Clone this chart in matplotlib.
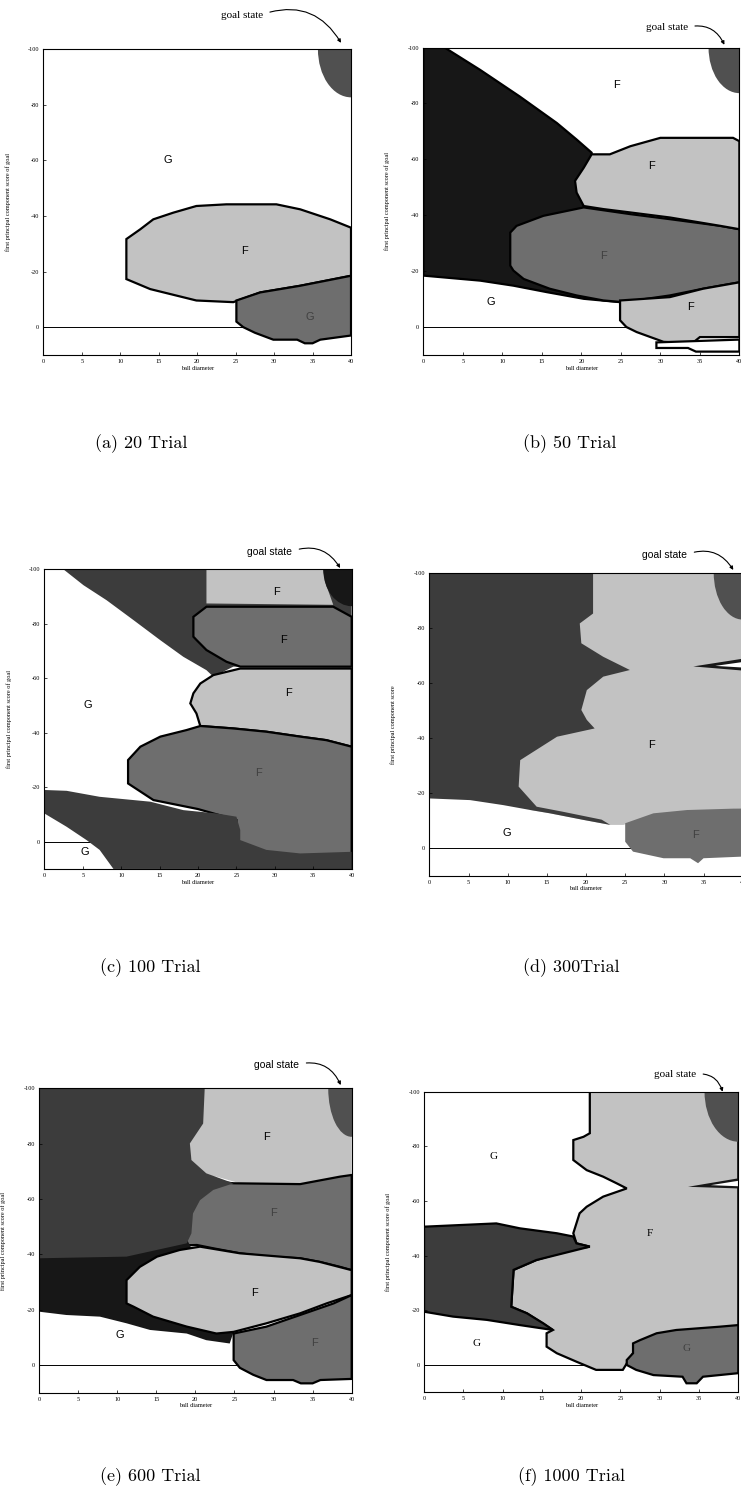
import numpy as np
import matplotlib.pyplot as plt
from matplotlib.patches import Polygon, Ellipse

plt.rcParams['axes.unicode_minus'] = False

# grey levels of the scanned halftones
WHITE = '#ffffff'
LIGHT = '#c2c2c2'
MID = '#6e6e6e'
DARK = '#3c3c3c'
DARKEST = '#171717'
GOAL = '#505050'

x_ticks = [0, 5, 10, 15, 20, 25, 30, 35, 40]
y_ticks = [-100, -80, -60, -40, -20, 0]
captions = ['(a) 20 Trial', '(b) 50 Trial', '(c) 100 Trial',
            '(d) 300Trial', '(e) 600 Trial', '(f) 1000 Trial']

# ---- (a) 20 trials
a_goal = (4.3, 17.3)
a_light_f = np.array([(10.8, -31.7), (12.6, -35.2), (14.3, -38.8), (16.9, -41.2), (19.9, -43.6),
                      (23.8, -44.2), (30.3, -44.2), (33.4, -42.4), (37.3, -38.8), (40, -35.8),
                      (40, -18.5), (33.4, -14.9), (28.2, -12.5), (24.7, -9), (19.9, -9.6),
                      (13.9, -13.7), (10.8, -17.3)])
a_dark_g = np.array([(25.1, -9.6), (28.2, -12.5), (33.4, -14.9), (40, -18.5), (40, 3), (36, 4.5),
                     (35, 5.8), (34, 5.8), (33, 4.5), (29.9, 4.5), (27.5, 2), (26, 0), (25.1, -2)])
a_labels = [('G', 16.2, -60.3), ('F', 26.2, -27.5), ('G', 34.7, -3.6)]

# ---- (b) 50 trials
b_goal = (3.9, 16.3)
b_dark = np.array([(0, -100), (2.7, -100), (7.2, -92), (12.2, -82.5), (16.9, -73), (19.4, -67.1),
                   (21.3, -62.4), (21.3, -60), (20.3, -56.4), (19.4, -52.9), (19.8, -48.1),
                   (20.3, -43.3), (24.9, -8.9), (20.3, -10.1), (15.6, -12.5), (11.4, -14.8),
                   (7.2, -16.6), (0, -18.4)])
b_mid_f = np.array([(11, -33.8), (11.8, -36.2), (15.2, -39.8), (20.3, -42.8), (26.2, -40.4),
                    (31.2, -38.6), (37.6, -36.2), (40, -35), (40, -16), (35.4, -13.7),
                    (31.2, -11.3), (25.3, -8.9), (22.8, -9.5), (19.4, -11.3), (16, -13.7),
                    (12.7, -17.2), (11.4, -20.2), (11, -22)])
b_light_f = np.array([(21.3, -61.8), (23.6, -61.8), (26.2, -64.7), (30, -67.7), (39.2, -67.7),
                      (40, -66.5), (40, -35), (37.6, -36.2), (31.2, -39.2), (26.2, -41),
                      (22.8, -42.2), (20.3, -43.3), (19.4, -48.1), (19.2, -52.3), (20.3, -57)])
b_light_f2 = np.array([(24.9, -9.5), (31.2, -10.7), (35.4, -13.7), (40, -16), (40, 3.6), (35, 3.6),
                       (34, 5.9), (30.4, 5.3), (27, 1.8), (25.7, 0), (24.9, -2.4)])
b_strip = np.array([(29.5, 5.5), (40, 4.5), (40, 8.8), (34.5, 8.8), (33.5, 7.5), (29.5, 7.5)])
b_labels = [('F', 24.5, -86.7), ('F', 28.9, -57.6), ('F', 22.8, -25.5), ('G', 8.6, -8.9),
            ('F', 33.8, -7.1)]

# ---- (c) 100 trials
c_goal = (3.7, 13.5)
c_dark_top = np.array([(2.5, -100), (40, -100), (40, -64), (24.6, -64.3), (22, -60.6), (21.1, -63),
                       (18.1, -67.9), (15.1, -74), (11.6, -81.4), (8.1, -88.7), (5.1, -94.2)])
c_light_top = np.array([(21.1, -100), (36.3, -100), (36.6, -95), (37.6, -87), (21.1, -87.5)])
c_mid_top = np.array([(19.4, -82.6), (21.1, -86.3), (37.6, -86.3), (40, -82.6), (40, -64.3),
                      (25.5, -64.3), (23.7, -66.1), (21.1, -70.4), (19.8, -74.1), (19.4, -75.3)])
c_light_mid = np.array([(22, -61.2), (25.5, -63.6), (40, -63.6), (40, -34.9), (36.7, -37.3),
                        (33.3, -38.6), (28.9, -40.4), (24.6, -41.6), (20.3, -42.5), (19.8, -47.1),
                        (19, -50.8), (19.4, -54.5), (20.3, -58.1)])
c_mid_low = np.array([(10.9, -30), (12.5, -34.9), (15.1, -38.6), (18.5, -41), (20.3, -42.5),
                      (24.6, -41.6), (28.9, -40.4), (33.3, -38.6), (36.7, -37.3), (40, -34.9),
                      (40, 10), (25, 10), (25, -8), (20, -12), (14.2, -15.3), (10.9, -21.4)])
c_dark_low = np.array([(0, -19), (2.9, -18.7), (7.2, -16.5), (11.6, -15.3), (13.8, -14.7),
                       (18.1, -11.6), (22.4, -10.4), (25, -9.2), (25.5, -4.3), (25.5, -0.6),
                       (28.9, 3), (33.3, 4.3), (40, 3.7), (40, 10), (9, 10), (7.2, 3),
                       (5.5, -0.6), (2.9, -5.5), (0, -10.4)])
c_labels = [('G', 5.7, -50.2), ('G', 5.3, 3.7), ('F', 30.2, -91.8), ('F', 31.1, -74.1),
            ('F', 31.8, -54.5), ('F', 27.9, -25.1)]

# ---- (d) 300 trials
d_goal = (3.7, 17.0)
d_light = np.array([(15, -100), (40, -100), (40, -14.5), (30.7, -12.7), (26.5, -10.3), (24.8, -8.5),
                    (23.1, -8.5), (19.7, -10.3), (15.4, -12.7), (12.9, -13.9), (11, -20),
                    (11, -40), (15, -60)])
d_dark = np.array([(0, -100), (20.9, -100), (20.9, -85.2), (19.2, -81.6), (19.4, -74.4),
                   (22.2, -69.5), (25.6, -64.7), (22.2, -62.3), (20.1, -57.4), (19.4, -50.2),
                   (20.1, -46.6), (21.1, -43.5), (16.3, -40.5), (11.6, -32), (11.4, -22.4),
                   (13.7, -15.1), (17, -13.3), (22, -10.4), (23.1, -8.5), (19.7, -10.3),
                   (15.4, -12.7), (12.9, -13.9), (9.4, -15.7), (5.2, -17.5), (0, -18.1)])
d_wedge = np.array([(33.7, -66), (40, -68.8), (40, -64.5)])
d_wedge_hole = np.array([(36.5, -66.2), (40, -67.6), (40, -65.6)])
d_mid_g = np.array([(25, -9.1), (28.6, -12.7), (32.9, -13.9), (40, -14.5), (40, 3), (35, 3.6),
                    (34.3, 5.4), (33.3, 3.6), (29.9, 3.6), (26, 1.2), (25, -2.4)])
d_labels = [('G', 9.9, -5.4), ('F', 28.4, -37.5), ('F', 34, -5)]

# ---- (e) 600 trials
e_goal = (3.0, 17.5)
e_light_top = np.array([(15, -100), (37.2, -100), (40, -82.5), (40, -68), (38.5, -68),
                        (35.5, -66.3), (33.4, -65.7), (25.7, -65.7), (22.7, -68.1), (15, -68)])
e_mid_f = np.array([(22, -66.5), (24.9, -65.7), (33.4, -65.4), (38.5, -68.1), (40, -68.7),
                    (40, -34.3), (38.5, -35.5), (35.9, -37.3), (33.4, -38.6), (29.1, -39.2),
                    (25.7, -40.4), (22.3, -42.2), (20.2, -43.4), (15, -43), (15, -62)])
e_darkest = np.array([(0, -45), (19, -45), (24.9, -12), (24.4, -7.8), (21.4, -9),
                      (18.9, -11.4), (14.2, -12.7), (11.2, -15.1), (7.8, -17.5), (3.5, -18.1),
                      (0, -19.3)])
e_dark = np.array([(0, -100), (21.2, -100), (21, -87.3), (19.3, -80.1), (19.5, -74.1), (21.4, -69.3),
                   (24.9, -65.7), (22.3, -63.3), (20.6, -59.6), (19.7, -54.8), (19.5, -47.6),
                   (18.9, -44), (11.2, -39.2), (0, -38.6)])
e_light_low = np.array([(11.2, -30.7), (12.9, -35.5), (15.1, -39.2), (18, -41.6), (20.6, -42.8),
                        (25.7, -40.4), (33.4, -38.6), (35.9, -37.3), (40, -34.3), (40, -25.3),
                        (36.8, -22.3), (33.4, -18.7), (29.1, -15.1), (24.9, -12), (22.7, -11.4),
                        (18.9, -13.9), (14.6, -17.5), (12.1, -21.1), (11.2, -22.3)])
e_mid_g = np.array([(24.9, -11.4), (29.1, -13.9), (33.4, -18.1), (37.7, -22.3), (40, -25.3),
                    (40, 5), (36, 5.4), (35, 6.6), (33.5, 6.6), (32.5, 5.4), (29.1, 5.4),
                    (27.4, 3.5), (25.7, 1), (24.9, -1.8)])
e_labels = [('F', 29.1, -82.5), ('F', 30, -54.8), ('F', 27.6, -25.9), ('F', 35.3, -7.8),
            ('G', 10.4, -10.8)]

# ---- (f) 1000 trials
f_goal = (4.3, 18.3)
f_light = np.array([(21.1, -100), (40, -100), (40, -12.8), (33, -12), (28, -9), (26.6, -4.3),
                    (25.3, 1.8), (21.9, 1.8), (19.4, -1.2), (16.9, -4.3), (15.6, -6.7),
                    (15.6, -11.6), (16.4, -12.8), (13.1, -18.9), (11.1, -21.3), (11.4, -34.8),
                    (14.3, -38.4), (18.6, -42.1), (21.1, -43.3), (19.4, -44.5), (19, -48.2),
                    (19.8, -55.5), (20.7, -57.9), (22.8, -61.6), (25.8, -64.6), (24.5, -66.5),
                    (22.8, -68.9), (20.7, -71.3), (19, -75), (19, -82.3), (20.3, -83.5),
                    (21.1, -84.8), (21.1, -94.5)])
f_dark = np.array([(0, -50.6), (9.2, -51.8), (12.2, -50), (16.9, -48.2), (19, -47), (19.4, -44.5),
                   (21.1, -43.3), (18.6, -41.5), (14.3, -38.4), (11.4, -34.8), (11.1, -21.3),
                   (13.1, -18.9), (15.2, -15.2), (16.4, -12.8), (12.2, -14.6), (8, -16.5),
                   (3.7, -17.7), (0, -19.5)])
f_wedge = np.array([(33.6, -65.2), (40, -68.3), (40, -64.6)])
f_wedge_hole = np.array([(36.5, -65.8), (40, -67.4), (40, -65.4)])
f_mid_g = np.array([(26.6, -7.9), (27.5, -9.1), (29.6, -11.6), (32.1, -12.8), (37.6, -14),
                    (40, -14.6), (40, 3), (35.5, 4.3), (34.7, 6.7), (33.4, 6.7), (32.9, 4.3),
                    (29.2, 3.7), (27, 1.8), (25.8, 0), (25.8, -1.8), (26.6, -4.3)])
f_labels = [('G', 8.8, -76.2), ('F', 28.7, -48.2), ('G', 6.7, -7.9), ('G', 33.4, -6.1)]

# axes rectangles in figure fractions
rects = [[0.0584, 0.7643, 0.4153, 0.2030], [0.5713, 0.7643, 0.4265, 0.2041],
         [0.0598, 0.4230, 0.4148, 0.1989], [0.5794, 0.4184, 0.4229, 0.2013],
         [0.0526, 0.0752, 0.4220, 0.2021], [0.5722, 0.0755, 0.4242, 0.1996]]
cap_pos = [(141, 444), (570, 444), (150, 968), (571, 968), (150, 1477), (572, 1477)]

panels = [
    dict(layers=[(a_light_f, LIGHT, True), (a_dark_g, MID, True)],
         goal=a_goal, goal_first=True, labels=a_labels, dark_labels=[2],
         txt=(0.646, 1.112), tip=(38.7, -102.3), serif=True, lab_serif=False,
         ylab='first principal component score of goal'),
    dict(layers=[(b_dark, DARKEST, True), (b_mid_f, MID, True), (b_light_f, LIGHT, True),
                 (b_light_f2, LIGHT, True), (b_strip, WHITE, True)],
         goal=b_goal, goal_first=True, labels=b_labels, dark_labels=[2],
         txt=(0.771, 1.064), tip=(38.1, -101), serif=True, lab_serif=False,
         ylab='first principal component score of goal'),
    dict(layers=[(c_dark_top, DARK, False), (c_light_top, LIGHT, False), (c_mid_top, MID, True),
                 (c_light_mid, LIGHT, True), (c_mid_low, MID, True), (c_dark_low, DARK, False)],
         goal=c_goal, goal_color=DARKEST, labels=c_labels, dark_labels=[5],
         txt=(0.734, 1.058), tip=(38.5, -100.5), serif=False, lab_serif=False,
         ylab='first principal component score of goal'),
    dict(layers=[(d_light, LIGHT, False), (d_dark, DARK, False), (d_wedge, DARKEST, False),
                 (d_wedge_hole, WHITE, False), (d_mid_g, MID, False)],
         goal=d_goal, labels=d_labels, dark_labels=[2],
         txt=(0.752, 1.058), tip=(38.8, -101), serif=False, lab_serif=False,
         ylab='first principal component score'),
    dict(layers=[(e_light_top, LIGHT, False), (e_mid_f, MID, True), (e_darkest, DARKEST, False),
                 (e_dark, DARK, False), (e_light_low, LIGHT, True), (e_mid_g, MID, True)],
         goal=e_goal, labels=e_labels, dark_labels=[1, 3],
         txt=(0.761, 1.077), tip=(38.6, -101.2), serif=False, lab_serif=False,
         ylab='first principal component score of goal'),
    dict(layers=[(f_light, LIGHT, True), (f_dark, DARK, True), (f_wedge, DARKEST, False),
                 (f_wedge_hole, WHITE, False), (f_mid_g, MID, True)],
         goal=f_goal, labels=f_labels, dark_labels=[3],
         txt=(0.799, 1.056), tip=(38.0, -100), serif=True, lab_serif=True,
         ylab='first principal component score of goal'),
]

fig = plt.figure(figsize=(7.41, 15.06), dpi=100)

for rect, p, cap, (cx, cy) in zip(rects, panels, captions, cap_pos):
    ax = fig.add_axes(rect)
    ax.set_xlim(0, 40)
    ax.set_ylim(10, -100)
    ax.axhline(0, color='black', lw=0.7, zorder=0.5)

    goal_patch = Ellipse((40, -100), 2 * p['goal'][0], 2 * p['goal'][1],
                         facecolor=p.get('goal_color', GOAL), edgecolor='none')
    if p.get('goal_first'):
        ax.add_patch(goal_patch)
    for verts, shade, outline in p['layers']:
        ax.add_patch(Polygon(verts, closed=True, facecolor=shade,
                             edgecolor='black' if outline else 'none', lw=1.6))
    if not p.get('goal_first'):
        ax.add_patch(goal_patch)

    lab_font = 'Liberation Serif' if p['lab_serif'] else 'Liberation Sans'
    for i, (s, lx, ly) in enumerate(p['labels']):
        faint = i in p['dark_labels']
        ax.text(lx, ly, s, ha='center', va='center', fontsize=8, family=lab_font,
                color='#222222' if faint else 'black', alpha=0.6 if faint else 1.0, zorder=5)

    goal_font = 'Liberation Serif' if p['serif'] else 'Liberation Sans'
    ax.annotate('goal state', xy=p['tip'], xycoords='data', xytext=p['txt'],
                textcoords='axes fraction', ha='center', va='center',
                fontsize=8 if p['serif'] else 7.5, family=goal_font, annotation_clip=False,
                arrowprops=dict(arrowstyle='-|>', connectionstyle='arc3,rad=-0.4', lw=0.8,
                                color='black', shrinkA=3, shrinkB=0, mutation_scale=5,
                                relpos=(1.0, 0.6)))

    ax.set_xticks(x_ticks)
    ax.set_yticks(y_ticks)
    ax.tick_params(direction='in', length=2.5, width=0.5, labelsize=4.5, pad=3)
    for t in ax.get_xticklabels() + ax.get_yticklabels():
        t.set_family('Liberation Serif')
    ax.set_xlabel('ball diameter', fontsize=4.5, family='Liberation Serif', labelpad=1)
    ax.set_ylabel(p['ylab'], fontsize=4.5, family='Liberation Serif')
    ax.yaxis.set_label_coords(-0.105, 0.5)
    for sp in ax.spines.values():
        sp.set_linewidth(0.8)

    fig.text(cx / 741, 1 - cy / 1506, cap, ha='center', va='center', fontsize=13, family='cmr10')

fig.savefig('out.png', dpi=100)
